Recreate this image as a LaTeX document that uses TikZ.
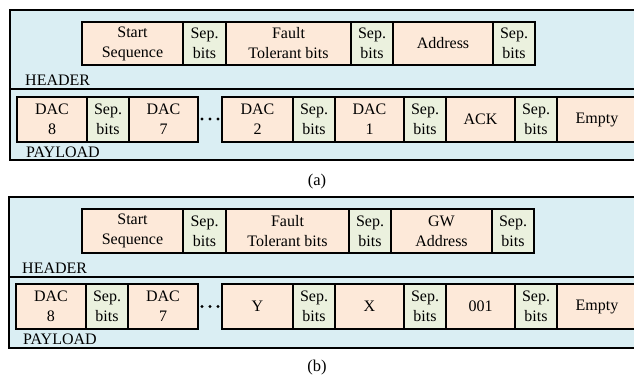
\documentclass[tikz,border=0pt]{standalone}
\usepackage{fontspec}
\setmainfont{Liberation Serif}
\definecolor{bgblue}{HTML}{DAEEF3}
\definecolor{peach}{HTML}{FDE9D9}
\definecolor{sepgreen}{HTML}{EBF1DE}
\tikzset{
  cell/.style={draw, line width=1.3pt, inner sep=0pt, outer sep=0pt, align=center,
    font=\fontsize{16}{20}\selectfont},
  dat/.style={cell, fill=peach},
  sepc/.style={cell, fill=sepgreen},
  region/.style={draw, line width=1.5pt, fill=bgblue, inner sep=0pt, outer sep=0pt, anchor=north west},
  tag/.style={anchor=west, inner sep=0pt, font=\fontsize{16}{20}\selectfont},
  caption/.style={inner sep=0pt, font=\fontsize{16.5}{20}\selectfont},
}
% \fld{name}{style}{left}{right}{top}{bottom}{text}
\newcommand{\fld}[7]{%
  \node[#2, minimum width=#4-#3, minimum height=#6-#5] (#1) at ({(#3+#4)/2},{(#5+#6)/2}) {#7};}
\begin{document}
\begin{tikzpicture}[x=1pt, y=-1pt]
\useasboundingbox (0,0) rectangle (634,378);

% ---------- frame (a) ----------
\node[region, minimum width=630, minimum height=79] (hdrA) at (10,10) {};
\node[region, minimum width=630, minimum height=71] (plA) at (10,89) {};
\fld{a1}{dat}{82}{183}{22}{65}{Start\\Sequence}
\fld{a2}{sepc}{183}{226}{22}{65}{Sep.\\bits}
\fld{a3}{dat}{226}{351}{22}{65}{Fault\\Tolerant bits}
\fld{a4}{sepc}{351}{393}{22}{65}{Sep.\\bits}
\fld{a5}{dat}{393}{493}{22}{65}{Address}
\fld{a6}{sepc}{493}{535}{22}{65}{Sep.\\bits}
\node[tag] (hA) at (25,80) {HEADER};

\fld{p1}{dat}{17}{87}{97}{142}{DAC\\8}
\fld{p2}{sepc}{87}{129}{97}{142}{Sep.\\bits}
\fld{p3}{dat}{129}{198}{97}{142}{DAC\\7}
\foreach \dx in {202,210,218} \fill (\dx,119) circle (1.6);
\fld{p4}{dat}{222}{293}{97}{142}{DAC\\2}
\fld{p5}{sepc}{293}{335}{97}{142}{Sep.\\bits}
\fld{p6}{dat}{335}{404}{97}{142}{DAC\\1}
\fld{p7}{sepc}{404}{446}{97}{142}{Sep.\\bits}
\fld{p8}{dat}{446}{515}{97}{142}{ACK}
\fld{p9}{sepc}{515}{557}{97}{142}{Sep.\\bits}
\fld{p10}{dat}{557}{637}{97}{142}{Empty}
\node[tag] (pA) at (26,152) {PAYLOAD};
\node[caption] (capA) at (317,182) {(a)};

% ---------- frame (b) ----------
\node[region, minimum width=631, minimum height=80] (hdrB) at (9,197) {};
\node[region, minimum width=631, minimum height=71] (plB) at (9,277) {};
\fld{b1}{dat}{82}{183}{209}{253}{Start\\Sequence}
\fld{b2}{sepc}{183}{226}{209}{253}{Sep.\\bits}
\fld{b3}{dat}{226}{349}{209}{253}{Fault\\Tolerant bits}
\fld{b4}{sepc}{349}{391}{209}{253}{Sep.\\bits}
\fld{b5}{dat}{391}{492}{209}{253}{GW\\Address}
\fld{b6}{sepc}{492}{534}{209}{253}{Sep.\\bits}
\node[tag] (hB) at (22,268) {HEADER};

\fld{q1}{dat}{16}{86}{284}{329}{DAC\\8}
\fld{q2}{sepc}{86}{128}{284}{329}{Sep.\\bits}
\fld{q3}{dat}{128}{198}{284}{329}{DAC\\7}
\foreach \dx in {202,210,218} \fill (\dx,306.5) circle (1.6);
\fld{q4}{dat}{222}{293}{284}{329}{Y}
\fld{q5}{sepc}{293}{335}{284}{329}{Sep.\\bits}
\fld{q6}{dat}{335}{404}{284}{329}{X}
\fld{q7}{sepc}{404}{446}{284}{329}{Sep.\\bits}
\fld{q8}{dat}{446}{515}{284}{329}{001}
\fld{q9}{sepc}{515}{557}{284}{329}{Sep.\\bits}
\fld{q10}{dat}{557}{637}{284}{329}{Empty}
\node[tag] (pB) at (23,339) {PAYLOAD};
\node[caption] (capB) at (317,368) {(b)};
\end{tikzpicture}
\end{document}
